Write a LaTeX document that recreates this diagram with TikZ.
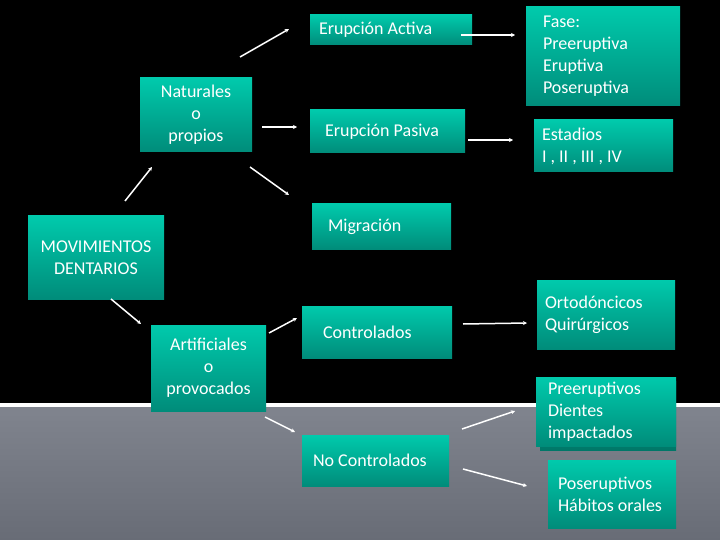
\documentclass[tikz,border=0pt]{standalone}
\usepackage{fontspec}
\setmainfont{Carlito}
\usepackage{xcolor}
\usetikzlibrary{arrows.meta}
\definecolor{tealtop}{RGB}{0,202,172}
\definecolor{tealbot}{RGB}{0,140,122}
\definecolor{grisarriba}{RGB}{128,132,142}
\definecolor{grisabajo}{RGB}{104,108,118}
\begin{document}
\begin{tikzpicture}[x=1pt,y=-1pt,
    caja/.style={rectangle,top color=tealtop,bottom color=tealbot,text=white,
      inner sep=0pt,font=\fontsize{18}{22}\selectfont},
    flecha/.style={white,line width=1.5pt,-{Stealth[length=4pt,width=4pt]}}]
    \useasboundingbox (0,0) rectangle (720,540);
    % fondo
    \fill[black] (0,0) rectangle (720,403);
    \fill[white] (0,403) rectangle (720,407);
    \shade[top color=grisarriba,bottom color=grisabajo] (0,407) rectangle (720,540);

    % cajas
    \node[caja,minimum width=136,minimum height=83,align=center] (mov) at (96,257.5) {MOVIMIENTOS\\DENTARIOS};
    \node[caja,minimum width=112,minimum height=74,text width=112,align=center] (nat) at (196,115) {Naturales\\o\\propios};
    \node[caja,minimum width=115,minimum height=86,text width=115,align=center] (art) at (208.5,368) {Artificiales\\o\\provocados};

    \node[caja,minimum width=162,minimum height=30,text width=144,align=flush left] (act) at (391,30) {Erupción Activa};
    \node[caja,minimum width=155,minimum height=43,text width=125,align=flush left] (pas) at (387.5,131.5) {Erupción Pasiva};
    \node[caja,minimum width=139,minimum height=45,text width=107,align=flush left] (mig) at (381.5,226.5) {Migración};
    \node[caja,minimum width=150,minimum height=52,text width=108,align=flush left] (con) at (377,332) {Controlados};
    \node[caja,minimum width=147,minimum height=51,text width=125,align=flush left] (noc) at (375.5,460.5) {No Controlados};

    \node[caja,minimum width=154,minimum height=99,text width=120,align=flush left] (fase) at (603,56.5) {Fase:\\Preeruptiva\\Eruptiva\\Poseruptiva};
    \node[caja,minimum width=139,minimum height=52,text width=123,align=flush left] (est) at (603.5,146) {Estadios\\I , II , III , IV};
    \node[caja,minimum width=138,minimum height=69,text width=122,align=flush left] (ort) at (606,314.5) {Ortodóncicos\\Quirúrgicos};
    \fill[top color=tealtop!85!black,bottom color=tealbot!85!black] (540,381) rectangle (676,450);
    \node[caja,minimum width=140,minimum height=69,text width=116,align=flush left] (pre) at (606,411.5) {Preeruptivos\\Dientes\\impactados};
    \node[caja,minimum width=128,minimum height=68,text width=108,align=flush left] (pos) at (612,494) {Poseruptivos\\Hábitos orales};

    % extremos de las flechas
    \coordinate (nat1) at (240,57);   \coordinate (act0) at (289,29);
    \coordinate (nat2) at (262,127);  \coordinate (pas0) at (297,127);
    \coordinate (nat3) at (250,167);  \coordinate (mig0) at (289,195);
    \coordinate (mov1) at (125,201);  \coordinate (nat0) at (152,167);
    \coordinate (mov2) at (111,299);  \coordinate (art0) at (141,324);
    \coordinate (art1) at (269,333);  \coordinate (con0) at (297,318);
    \coordinate (art2) at (265,417);  \coordinate (noc0) at (295,432);
    \coordinate (act1) at (461,35);   \coordinate (fase0) at (515,35);
    \coordinate (pas1) at (468,140);  \coordinate (est0) at (513,140);
    \coordinate (con1) at (463,324);  \coordinate (ort0) at (527,323);
    \coordinate (noc1) at (462,429);  \coordinate (pre0) at (515,411);
    \coordinate (noc2) at (463,469);  \coordinate (pos0) at (527,486);

    \draw[flecha] (nat1) -- (act0);
    \draw[flecha] (nat2) -- (pas0);
    \draw[flecha] (nat3) -- (mig0);
    \draw[flecha] (mov1) -- (nat0);
    \draw[flecha] (mov2) -- (art0);
    \draw[flecha] (art1) -- (con0);
    \draw[flecha] (art2) -- (noc0);
    \draw[flecha] (act1) -- (fase0);
    \draw[flecha] (pas1) -- (est0);
    \draw[flecha] (con1) -- (ort0);
    \draw[flecha] (noc1) -- (pre0);
    \draw[flecha] (noc2) -- (pos0);
\end{tikzpicture}
\end{document}
